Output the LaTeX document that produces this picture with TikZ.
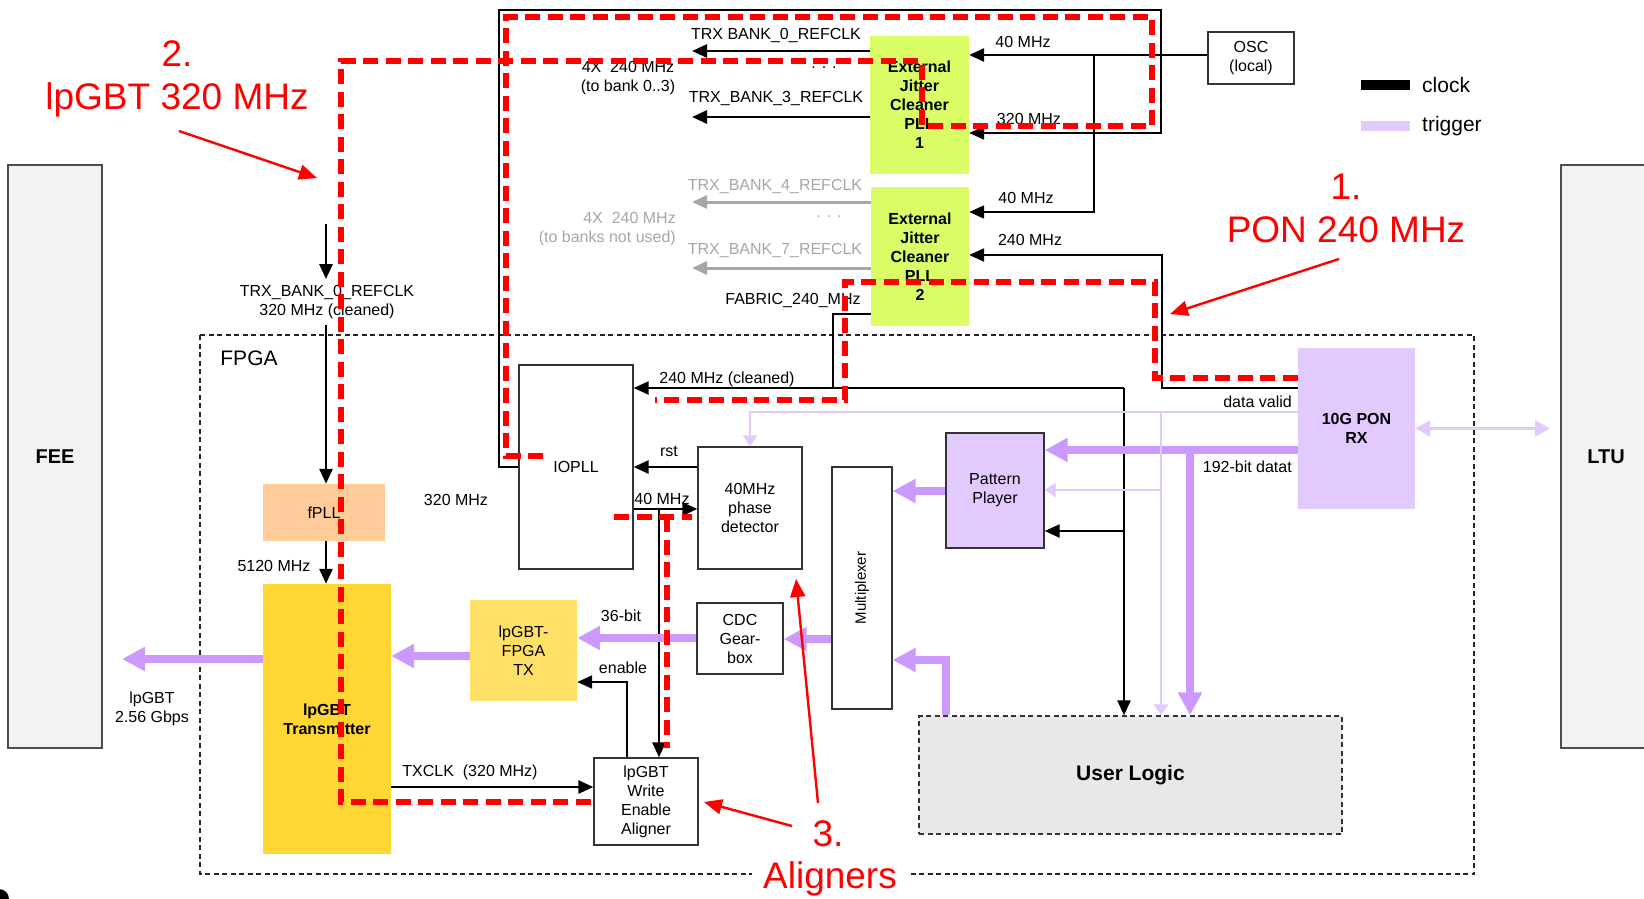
\documentclass[tikz,border=0pt]{standalone}
\usepackage{fontspec}
\setmainfont{Liberation Sans}
\usepackage{xcolor}
\usepackage{tikz}
\usetikzlibrary{positioning, arrows.meta}

\definecolor{pllgreen}{RGB}{218,252,102}
\definecolor{trglight}{RGB}{226,202,255}
\definecolor{trgdark}{RGB}{204,153,255}
\definecolor{fpllpeach}{RGB}{255,204,153}
\definecolor{txyellow}{RGB}{255,224,102}
\definecolor{txgold}{RGB}{255,214,51}
\definecolor{unused}{RGB}{166,166,166}
\definecolor{ulgray}{RGB}{232,232,232}
\definecolor{feegray}{RGB}{242,242,242}
\definecolor{hlred}{RGB}{255,0,0}

\tikzset{
  box/.style={draw=black!80, line width=1.3pt, fill=white, align=center, inner sep=0pt},
  fillbox/.style={align=center, inner sep=0pt},
  bold/.style={font=\fontsize{16}{19}\selectfont\bfseries},
  side/.style={draw=black!70, line width=1.3pt, fill=feegray, inner sep=0pt, font=\fontsize{20}{24}\selectfont\bfseries},
  txt/.style={inner sep=0pt, align=center},
  clk/.style={draw=black, line width=2.8pt, -{Triangle[length=15pt,width=13pt]}},
  clkthin/.style={draw=black, line width=2pt},
  unusedclk/.style={draw=unused, line width=3pt, -{Triangle[length=15pt,width=13pt]}},
  trg/.style={draw=trglight, line width=2.6pt, -{Triangle[length=11pt,width=14pt]}},
  trgbus/.style={draw=trgdark, line width=7.5pt, line join=miter, -{Triangle[length=23pt,width=23pt]}},
  hlpath/.style={draw=hlred, line width=5.5pt, dash pattern=on 15pt off 7.5pt},
  hltxt/.style={text=hlred, inner sep=0pt, align=center, font=\fontsize{37}{43}\selectfont},
  hlarrow/.style={draw=hlred, line width=2.4pt, -{Triangle[length=18pt,width=15pt]}}
}

\begin{document}
\begin{tikzpicture}[x=1pt, y=-1pt, font=\fontsize{16}{19}\selectfont]
\useasboundingbox (0,0) rectangle (1644,898);

\draw[black!85, line width=1.3pt, dash pattern=on 5pt off 3.5pt] (200,335) rectangle (1474,874);
\node[txt, font=\fontsize{21}{24}\selectfont] (fpgalbl) at (249,358) {FPGA};

\node[side, minimum width=94pt, minimum height=583pt] (fee) at (55,456.5) {FEE};
\node[side, minimum width=90pt, minimum height=583pt] (ltu) at (1606,456.5) {LTU};

\node[fillbox, fill=pllgreen, bold, minimum width=99pt, minimum height=138pt] (pll1) at (919.5,105) {External\\Jitter\\Cleaner\\PLL\\1};
\node[fillbox, fill=pllgreen, bold, minimum width=98pt, minimum height=139pt] (pll2) at (920,256.5) {External\\Jitter\\Cleaner\\PLL\\2};
\node[box, minimum width=86pt, minimum height=52pt] (osc) at (1251,58) {OSC\\(local)};
\node[fillbox, fill=trglight, bold, minimum width=117pt, minimum height=161pt] (ponrx) at (1356.5,428.5) {10G PON\\RX};
\node[box, fill=trglight, minimum width=98pt, minimum height=115pt] (pattern) at (995,490.5) {Pattern\\Player};
\node[box, minimum width=60pt, minimum height=242pt, label={[rotate=90, font=\fontsize{15}{18}\selectfont]center:Multiplexer}] (mux) at (862,588) {};
\node[box, fill=ulgray, dash pattern=on 5pt off 3.5pt, font=\fontsize{21}{24}\selectfont\bfseries, minimum width=423pt, minimum height=118pt] (userlogic) at (1130.5,775) {User Logic};
\node[box, minimum width=86pt, minimum height=71pt] (cdc) at (740,638.5) {CDC\\Gear-\\box};
\node[fillbox, fill=txyellow, minimum width=107pt, minimum height=101pt] (lpfpga) at (523.5,650.5) {lpGBT-\\FPGA\\TX};
\node[fillbox, fill=txgold, bold, minimum width=128pt, minimum height=270pt] (lptx) at (327,719) {lpGBT\\Transmitter};
\node[fillbox, fill=fpllpeach, minimum width=122pt, minimum height=57pt] (fpll) at (324,512.5) {fPLL};
\node[box, minimum width=114pt, minimum height=204pt] (iopll) at (576,467) {IOPLL};
\node[box, minimum width=104pt, minimum height=122pt] (phdet) at (750,508) {40MHz\\phase\\detector};
\node[box, minimum width=104pt, minimum height=87pt] (aligner) at (646,801.5) {lpGBT\\Write\\Enable\\Aligner};

\node[txt] (b0lbl) at (776,35) {TRX BANK\_0\_REFCLK};
\node[txt] (b3lbl) at (776,98) {TRX\_BANK\_3\_REFCLK};
\node[txt] (b03dots) at (824,68) {. . .};
\node[txt] (b03lbl) at (628,78) {4X\ \ 240 MHz\\(to bank 0..3)};
\node[txt, text=unused] (b4lbl) at (775,186) {TRX\_BANK\_4\_REFCLK};
\node[txt, text=unused] (b7lbl) at (775,250) {TRX\_BANK\_7\_REFCLK};
\node[txt, text=unused] (b47dots) at (829,217) {. . .};
\node[txt, text=unused, align=right, anchor=east] (b47lbl) at (676,229.5) {4X\ \ 240 MHz\\(to banks not used)};
\node[txt] (osc40) at (1023,42) {40 MHz};
\node[txt] (io320) at (1029,119) {320 MHz};
\node[txt] (pll2in40) at (1026,198) {40 MHz};
\node[txt] (pll2in240) at (1030,240) {240 MHz};
\node[txt] (fablbl) at (793,300) {FABRIC\_240\_MHz};
\node[txt] (cleanlbl) at (727,379) {240 MHz (cleaned)};
\node[txt, anchor=east] (dvlbl) at (1292,402) {data valid};
\node[txt, anchor=east] (buslbl) at (1292,467) {192-bit datat};
\node[txt] (rstlbl) at (669,451) {rst};
\node[txt] (io40lbl) at (662,499) {40 MHz};
\node[txt] (out320lbl) at (456,500) {320 MHz};
\node[txt] (fpllout) at (274,566) {5120 MHz};
\node[txt, inner sep=6pt] (refl) at (327,302) {TRX\_BANK\_0\_REFCLK\\320 MHz (cleaned)};
\node[txt] (bitlbl) at (621,616) {36-bit};
\node[txt] (enlbl) at (623,668) {enable};
\node[txt] (txclklbl) at (470,772) {TXCLK\ \ (320 MHz)};
\node[txt] (lnklbl) at (152,709) {lpGBT\\2.56 Gbps};

\node[txt, anchor=west, font=\fontsize{21}{24}\selectfont] (lgclk) at (1422,85) {clock};
\node[txt, anchor=west, font=\fontsize{21}{24}\selectfont] (lgtrg) at (1422,126) {trigger};
\node[fill=black, inner sep=0pt, minimum width=49pt, minimum height=10pt, left=12pt of lgclk] (barclk) {};
\node[fill=trglight, inner sep=0pt, minimum width=49pt, minimum height=10pt, left=12pt of lgtrg] (bartrg) {};

\draw[clk] (osc.west |- 0,55) -- (pll1.east |- 0,55);
\coordinate (oscsplit) at (1094,55);
\draw[clk, line width=2.2pt] (oscsplit) |- (pll2.east |- 0,212);
\draw[clk, line width=2.2pt] (ponrx.west |- 0,388) -| (1162,255) -- (pll2.east |- 0,255);
\draw[clk] (pll1.west |- 0,51) -- (692,51) coordinate (bank0);
\draw[clk] (pll1.west |- 0,117) -- (692,117) coordinate (bank3);
\draw[unusedclk] (pll2.west |- 0,202) -- (692,202) coordinate (bank4);
\draw[unusedclk] (pll2.west |- 0,268) -- (692,268) coordinate (bank7);
\draw[clk, line width=2.2pt] (iopll.west |- 0,467) -| (499,10) -| (1161,133) -- (pll1.east |- 0,133);
\coordinate (fabsplit) at (833,388);
\coordinate (fabright) at (1124,388);
\draw[clkthin] (pll2.west |- 0,314) -| (fabsplit);
\draw[clk, line width=2.4pt] (fabright) -- (iopll.east |- fabright);
\draw[clk, line width=2.4pt] (fabright) -- (fabright |- userlogic.north);
\draw[clk, line width=2.4pt] (fabright |- 0,531) -- (pattern.east |- 0,531);
\draw[clk] (phdet.west |- 0,467) -- (iopll.east |- 0,467);
\draw[clk] (iopll.east |- 0,509) -- (phdet.west |- 0,509);
\coordinate (iosplit) at (659,509);
\draw[clk] (iosplit) -- (iosplit |- aligner.north);
\draw[clk, line width=2pt] (aligner.north -| 627,0) |- (lpfpga.east |- 0,682);
\draw[clk] (lptx.east |- 0,787) -- (aligner.west |- 0,787);
\coordinate (refin) at (326,224);
\draw[clk] (refin) -- (refin |- refl.north);
\draw[clk] (refl.south -| refin) -- (refin |- fpll.north);
\draw[clk] (fpll.south -| refin) -- (refin |- lptx.north);

\draw[trgbus] (ponrx.west |- 0,450) -- (pattern.east |- 0,450);
\coordinate (bussplit) at (1190,450);
\draw[trgbus] (bussplit) -- (bussplit |- userlogic.north);
\draw[trgbus] (pattern.west |- 0,491) -- (mux.east |- 0,491);
\draw[trgbus] (userlogic.north -| 946,0) |- (mux.east |- 0,660);
\draw[trgbus] (mux.west |- 0,639) -- (cdc.east |- 0,639);
\draw[trgbus] (cdc.west |- 0,638) -- (lpfpga.east |- 0,638);
\draw[trgbus] (lpfpga.west |- 0,656) -- (lptx.east |- 0,656);
\draw[trgbus] (lptx.west |- 0,659) -- (122,659) coordinate (lnkout);

\draw[trg] (ponrx.west |- 0,412) -| (phdet.north);
\coordinate (dvsplit) at (1161,412);
\draw[trg] (dvsplit) -- (dvsplit |- userlogic.north);
\draw[trg] (dvsplit |- 0,490) -- (pattern.east |- 0,490);
\coordinate (ltuin) at (1550,428.5);
\draw[trg, {Triangle[length=15pt,width=16pt]}-{Triangle[length=15pt,width=16pt]}] (ponrx.east) -- (ltuin);

\draw[hlpath] (543,456) -- (506,456) -- (506,17) -- (1152,17) -- (1152,126) -- (922,126) -- (922,61) -- (341,61) -- (341,802) -- (aligner.west |- 0,802);
\draw[hlpath] (ponrx.west |- 0,378) -- (1155,378) -- (1155,282) -- (845,282) -- (845,400) -- (655,400);
\draw[hlpath] (614,517) -- (692,517) (667,517) -- (667,748);

\node[hltxt] (ann2) at (177,79) {2.\\lpGBT 320 MHz};
\node[hltxt] (ann1) at (1346,208.5) {1.\\PON 240 MHz};
\node[hltxt] (ann3) at (828,834) {3.};
\node[hltxt, fill=white, inner xsep=11pt] (ann3b) at (830,879) {Aligners};
\coordinate (ann2from) at (179,131);
\coordinate (ann2to) at (317,178);
\coordinate (ann1from) at (1339,259);
\coordinate (ann1to) at (1170,314);
\coordinate (ann3from) at (818,803);
\coordinate (ann3to) at (796,579);
\coordinate (ann3bfrom) at (792,826);
\coordinate (ann3bto) at (704,802);
\draw[hlarrow] (ann2from) -- (ann2to);
\draw[hlarrow] (ann1from) -- (ann1to);
\draw[hlarrow] (ann3from) -- (ann3to);
\draw[hlarrow] (ann3bfrom) -- (ann3bto);

\begin{scope}
\clip (0,0) rectangle (1644,898);
\fill (-1,899) circle (10pt);
\end{scope}
\end{tikzpicture}
\end{document}
